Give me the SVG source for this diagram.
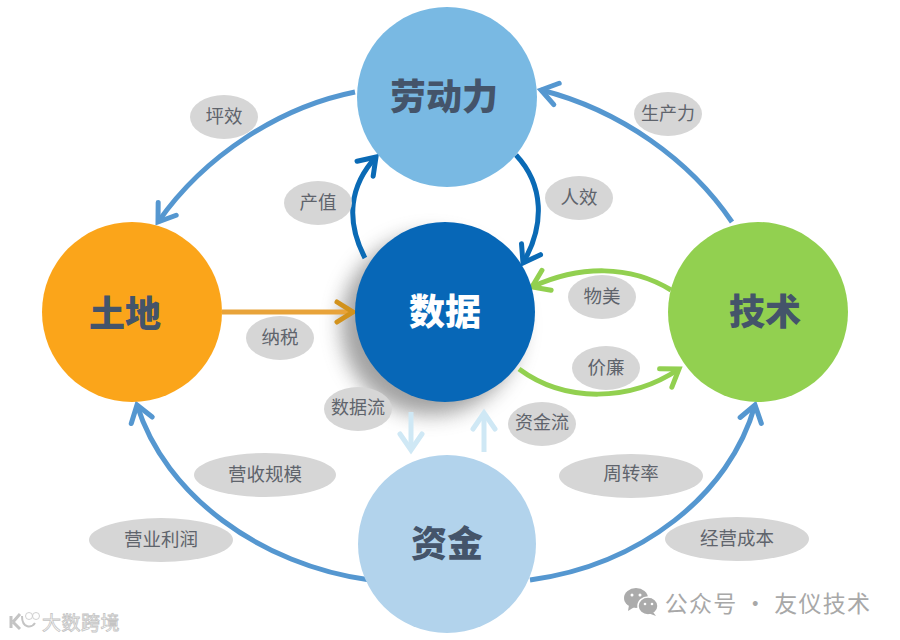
<svg xmlns="http://www.w3.org/2000/svg" width="900" height="640" viewBox="0 0 900 640">
<style>
text{font-family:"Noto Sans CJK SC","Liberation Sans",sans-serif;text-anchor:middle}
.n{font-size:36px;font-weight:900;fill:#44546a}
.l{font-size:18.5px;fill:#5f646c}
.b{fill:#d6d6d6}
.c{fill:none;stroke-width:5px}
</style>
<defs>
<filter id="blur" x="-30%" y="-30%" width="160%" height="160%"><feGaussianBlur stdDeviation="10"/></filter>
<marker id="aB" markerUnits="userSpaceOnUse" markerWidth="30" markerHeight="30" refX="24" refY="15" orient="auto"><path d="M8 4L24 15L8 26" fill="none" stroke="#5597d0" stroke-width="5" stroke-linecap="round"/></marker>
<marker id="aD" markerUnits="userSpaceOnUse" markerWidth="30" markerHeight="30" refX="24" refY="15" orient="auto"><path d="M8 4L24 15L8 26" fill="none" stroke="#0a6ab5" stroke-width="5" stroke-linecap="round"/></marker>
<marker id="aG" markerUnits="userSpaceOnUse" markerWidth="30" markerHeight="30" refX="24" refY="15" orient="auto"><path d="M8 4L24 15L8 26" fill="none" stroke="#92d050" stroke-width="5" stroke-linecap="round"/></marker>
<marker id="aO" markerUnits="userSpaceOnUse" markerWidth="30" markerHeight="30" refX="24" refY="15" orient="auto"><path d="M8 5L24 15L8 25" fill="none" stroke="#d2921c" stroke-width="5" stroke-linecap="round"/></marker>
<marker id="aL" markerUnits="userSpaceOnUse" markerWidth="30" markerHeight="30" refX="24" refY="15" orient="auto"><path d="M8 4L24 15L8 26" fill="none" stroke="#cfe8f5" stroke-width="5" stroke-linecap="round"/></marker>
</defs>
<rect width="900" height="640" fill="#fff"/>
<circle cx="431" cy="325" r="90" fill="#7a7a7a" opacity=".7" filter="url(#blur)"/>
<g id="connectors">
<path class="c" stroke="#5597d0" marker-end="url(#aB)" d="M355 92C280 107 205 155 158 222"/>
<path class="c" stroke="#5597d0" marker-end="url(#aB)" d="M732 222C690 160 620 110 541 90"/>
<path class="c" stroke="#5597d0" marker-end="url(#aB)" d="M370 580C260 565 165 495 137 405"/>
<path class="c" stroke="#5597d0" marker-end="url(#aB)" d="M530 580C640 565 730 495 755 405"/>
<path class="c" stroke="#0a6ab5" marker-end="url(#aD)" d="M365 258C345 220 350 185 376 157"/>
<path class="c" stroke="#0a6ab5" marker-end="url(#aD)" d="M516 155C544 185 545 225 523 263"/>
<path class="c" stroke="#92d050" marker-end="url(#aG)" d="M671 290C630 265 580 265 532 287"/>
<path class="c" stroke="#92d050" marker-end="url(#aG)" d="M519 369C565 403 630 402 679 369"/>
<path class="c" stroke="#e8a33a" marker-end="url(#aO)" d="M222 312H353"/>
<path class="c" stroke="#cfe8f5" marker-end="url(#aL)" d="M411 412V450"/>
<path class="c" stroke="#cfe8f5" marker-end="url(#aL)" d="M484 452V413"/>
</g>
<g id="node-labor"><circle cx="447" cy="97" r="90" fill="#79b9e3"/><text class="n" x="444" y="110">劳动力</text></g>
<g id="node-land"><circle cx="132" cy="312" r="90" fill="#fba51a"/><text class="n" x="125" y="327">土地</text></g>
<g id="node-data"><circle cx="445" cy="312" r="90" fill="#0767b7"/><text class="n" x="445" y="325" style="fill:#fff">数据</text></g>
<g id="node-tech"><circle cx="758" cy="312" r="90" fill="#92d050"/><text class="n" x="765" y="325">技术</text></g>
<g id="node-capital"><circle cx="447" cy="544" r="89" fill="#b2d3ec"/><text class="n" x="447" y="557">资金</text></g>
<g id="label-pingxiao"><ellipse class="b" cx="224" cy="117" rx="34" ry="22"/><text class="l" x="224" y="123">坪效</text></g>
<g id="label-chanzhi"><ellipse class="b" cx="318" cy="203" rx="34" ry="22"/><text class="l" x="318" y="209">产值</text></g>
<g id="label-renxiao"><ellipse class="b" cx="579" cy="198" rx="34" ry="22"/><text class="l" x="579" y="204">人效</text></g>
<g id="label-shengchanli"><ellipse class="b" cx="668" cy="114" rx="34" ry="22"/><text class="l" x="668" y="120" style="font-size:18px">生产力</text></g>
<g id="label-wumei"><ellipse class="b" cx="602" cy="297" rx="34" ry="22"/><text class="l" x="602" y="303">物美</text></g>
<g id="label-jialian"><ellipse class="b" cx="606" cy="368" rx="34" ry="22"/><text class="l" x="606" y="374">价廉</text></g>
<g id="label-nashui"><ellipse class="b" cx="280" cy="338" rx="34" ry="22"/><text class="l" x="280" y="344">纳税</text></g>
<g id="label-shujuliu"><ellipse class="b" cx="358" cy="409" rx="34" ry="22"/><text class="l" x="358" y="414" style="font-size:18px">数据流</text></g>
<g id="label-zijinliu"><ellipse class="b" cx="542" cy="424" rx="34" ry="22"/><text class="l" x="542" y="429" style="font-size:18px">资金流</text></g>
<g id="label-yingshou"><ellipse class="b" cx="265" cy="475" rx="71" ry="22"/><text class="l" x="265" y="481">营收规模</text></g>
<g id="label-zhouzhuan"><ellipse class="b" cx="631" cy="476" rx="72" ry="22"/><text class="l" x="631" y="480">周转率</text></g>
<g id="label-lirun"><ellipse class="b" cx="161" cy="540" rx="72" ry="22"/><text class="l" x="161" y="546">营业利润</text></g>
<g id="label-chengben"><ellipse class="b" cx="737" cy="539" rx="72" ry="22"/><text class="l" x="737" y="545">经营成本</text></g>
<g id="watermark-wechat" fill="#ababab">
<ellipse cx="636" cy="598" rx="12" ry="10"/><path d="M629 605L628 611L636 606Z"/>
<ellipse cx="648" cy="606" rx="10" ry="9" stroke="#fff" stroke-width="1.5"/><path d="M653 612L656 616L648 613Z"/>
<circle cx="632" cy="595" r="1.5" fill="#fff"/><circle cx="640" cy="595" r="1.5" fill="#fff"/><circle cx="645" cy="604" r="1.3" fill="#fff"/><circle cx="652" cy="604" r="1.3" fill="#fff"/>
<text x="768" y="612" style="font-size:23px;letter-spacing:1.2px" fill="#a8a8a8">公众号 · 友仪技术</text>
</g>
<g id="watermark-left" fill="#fff" stroke="#c4c4c4" stroke-width=".8">
<path d="M11 616V628M13 622L20 614M13 622L20 629" fill="none" stroke="#c4c4c4" stroke-width="3"/>
<path d="M22 616C22 629 32 628 35 623" fill="none" stroke="#c4c4c4" stroke-width="2"/>
<circle cx="29" cy="616" r="3.5"/><circle cx="36" cy="616" r="3.5"/>
<text x="81" y="630" style="font-size:19px;letter-spacing:.5px">大数跨境</text>
</g>
</svg>
